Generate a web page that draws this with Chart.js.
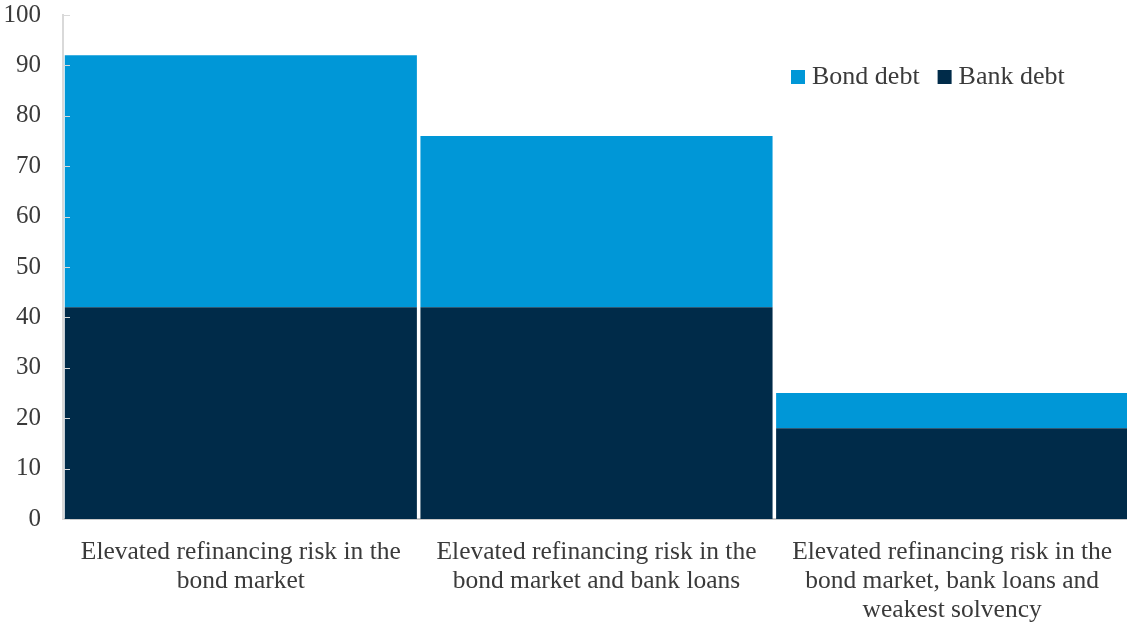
<!DOCTYPE html>
<html>
<head>
<meta charset="utf-8">
<script src="https://cdn.jsdelivr.net/npm/chart.js@4/dist/chart.umd.min.js"></script>
<style>
  html, body { margin: 0; padding: 0; background: #ffffff; overflow: hidden; }
  #wrap { width: 1127px; height: 625px; position: relative; overflow: hidden; }
</style>
</head>
<body>
<div id="wrap"><canvas id="c" width="1130" height="625"></canvas></div>
<script>
const categories = [
  ["Elevated refinancing risk in the", "bond market"],
  ["Elevated refinancing risk in the", "bond market and bank loans"],
  ["Elevated refinancing risk in the", "bond market, bank loans and", "weakest solvency"]
];
const bankDebt = [42, 42, 18];
const bondDebt = [50, 34, 7];
const yTicks = [0, 10, 20, 30, 40, 50, 60, 70, 80, 90, 100];

const FONT = "'Liberation Serif', 'DejaVu Serif', serif";
const TEXT = '#3a3a3a';
const BOND = '#0097D7';
const BANK = '#002B49';

const innerTicks = {
  id: 'innerTicks',
  afterDatasetsDraw(chart) {
    const ctx = chart.ctx, y = chart.scales.y, a = chart.chartArea;
    ctx.save();
    ctx.strokeStyle = '#d9d9d9';
    ctx.lineWidth = 1;
    yTicks.forEach(v => {
      const py = Math.round(y.getPixelForValue(v)) + 0.5;
      ctx.beginPath();
      ctx.moveTo(a.left, py);
      ctx.lineTo(a.left + 7, py);
      ctx.stroke();
    });
    ctx.restore();
  }
};

const customLegend = {
  id: 'customLegend',
  afterDraw(chart) {
    const ctx = chart.ctx;
    ctx.save();
    ctx.font = '26px ' + FONT;
    ctx.textBaseline = 'middle';
    ctx.textAlign = 'left';
    const items = [chart.data.datasets[1], chart.data.datasets[0]];
    let x = 791;
    const yc = 77;
    items.forEach(ds => {
      ctx.fillStyle = ds.backgroundColor;
      ctx.fillRect(x, yc - 7, 14, 14);
      ctx.fillStyle = TEXT;
      ctx.fillText(ds.label, x + 21, yc);
      x += 21 + ctx.measureText(ds.label).width + 18;
    });
    ctx.restore();
  }
};

new Chart(document.getElementById('c'), {
  type: 'bar',
  data: {
    labels: categories,
    datasets: [
      { label: 'Bank debt', data: bankDebt, backgroundColor: BANK, borderWidth: 0 },
      { label: 'Bond debt', data: bondDebt, backgroundColor: BOND, borderWidth: 0 }
    ]
  },
  options: {
    responsive: false,
    animation: false,
    layout: { padding: { top: 0, right: 0, left: 0, bottom: 0 } },
    plugins: { legend: { display: false }, tooltip: { enabled: false } },
    datasets: { bar: { categoryPercentage: 0.99, barPercentage: 1.0 } },
    scales: {
      x: {
        stacked: true,
        grid: { display: false, drawTicks: false },
        border: { display: true, color: '#c8c8c8', width: 2 },
        ticks: {
          color: TEXT,
          font: { family: FONT, size: 25.5, lineHeight: 1.137 },
          padding: 19,
          maxRotation: 0,
          autoSkip: false
        },
        afterFit(s) { s.height = 106; s.paddingLeft = 0; s.paddingRight = 0; }
      },
      y: {
        stacked: true,
        min: 0,
        max: 100,
        grid: { display: false, drawTicks: false },
        border: { display: true, color: '#d9d9d9', width: 2 },
        ticks: {
          stepSize: 10,
          color: TEXT,
          font: { family: FONT, size: 25 },
          padding: 22,
          callback: (v) => yTicks.includes(v) ? String(v) : ''
        },
        afterFit(s) { s.width = 63; s.paddingTop = 15; s.paddingBottom = 0; }
      }
    }
  },
  plugins: [innerTicks, customLegend]
});
</script>
</body>
</html>
